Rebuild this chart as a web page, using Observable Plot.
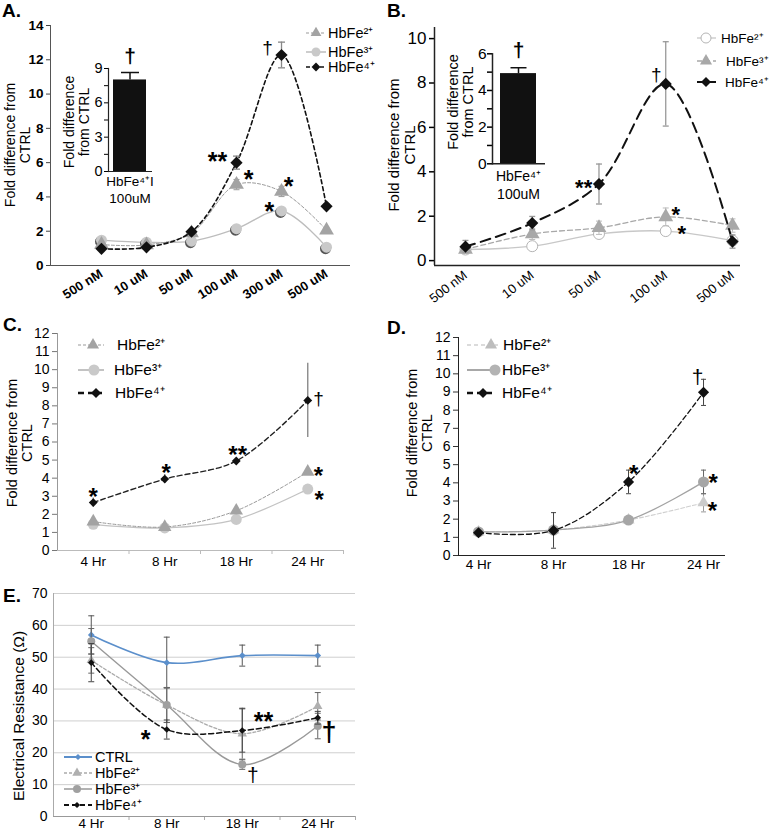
<!DOCTYPE html>
<html><head><meta charset="utf-8">
<script src="https://cdn.jsdelivr.net/npm/d3@7"></script>
<script src="https://cdn.jsdelivr.net/npm/@observablehq/plot@0.6"></script>
<style>
body{margin:0;background:#fff;font-family:"Liberation Sans",Arial,sans-serif;color:#000;}
#fig{position:relative;width:769px;height:830px;overflow:hidden;background:#fff;}
.plab{position:absolute;font-weight:bold;font-size:19px;}
</style></head><body><div id="fig"></div>
<script>
// ---------------- DATA ----------------
const seriesNames = ["HbFe²⁺", "HbFe³⁺", "HbFe⁴⁺"];
const ctrlName = "CTRL";

// Panel A (concentration)
const concA = ["500 nM", "10 uM", "50 uM", "100 uM", "300 uM", "500 uM"];
const aFe2 = [1.22, 1.2, 1.9, 4.72, 4.32, 2.06];
const aFe2Err = [0.08, 0.08, 0.1, 0.3, 0.3, 0.12];
const aFe3 = [1.48, 1.35, 1.42, 2.15, 3.18, 1.07];
const aFe3Err = [0.06, 0.06, 0.08, 0.1, 0.12, 0.06];
const aFe4 = [0.97, 1.06, 1.97, 6.0, 12.28, 3.45];
const aFe4Err = [0.08, 0.08, 0.12, 0.38, 0.75, 0.12];
const insetALabel = ["HbFe⁴⁺I\n100uM"];
const insetAValue = [8.0];
const insetAErr = [0.65];
const aNotes = [
  {x: 2.58, y: 6.42, t: "**"}, {x: 3.27, y: 5.37, t: "*"}, {x: 4.16, y: 4.96, t: "*"},
  {x: 3.73, y: 3.5, t: "*"}, {x: 3.69, y: 12.7, t: "†"}
];
const insetANotes = [{y: 10.1, t: "†"}];

// Panel B (concentration)
const concB = ["500 nM", "10 uM", "50 uM", "100 uM", "500 uM"];
const bFe2 = [0.5, 0.65, 1.2, 1.33, 0.9];
const bFe2Err = [0.05, 0.08, 0.1, 0.1, 0.15];
const bFe3 = [0.5, 1.2, 1.48, 1.97, 1.58];
const bFe3Err = [0.1, 0.25, 0.3, 0.4, 0.3];
const bFe4 = [0.63, 1.69, 3.45, 7.96, 0.86];
const bFe4Err = [0.28, 0.3, 0.9, 1.9, 0.3];
const insetBLabel = ["HbFe⁴⁺\n100uM"];
const insetBValue = [4.92];
const insetBErr = [0.32];
const bNotes = [
  {x: 1.77, y: 3.53, t: "**"}, {x: 2.86, y: 8.35, t: "†"},
  {x: 3.15, y: 2.3, t: "*"}, {x: 3.24, y: 1.45, t: "*"}
];
const insetBNotes = [{y: 6.2, t: "†"}];

// Panel C (time)
const hours = ["4 Hr", "8 Hr", "18 Hr", "24 Hr"];
const cFe2 = [1.6, 1.3, 2.2, 4.35];
const cFe2Err = [0.08, 0.06, 0.1, 0.1];
const cFe3 = [1.45, 1.25, 1.72, 3.4];
const cFe3Err = [0.06, 0.06, 0.08, 0.08];
const cFe4 = [2.65, 3.95, 4.95, 8.3];
const cFe4Err = [0.25, 0.25, 0.1, 2.05];
const cNotes = [
  {x: 0, y: 3.3, t: "*"}, {x: 1.02, y: 4.6, t: "*"}, {x: 2.02, y: 5.62, t: "**"},
  {x: 3.15, y: 8.38, t: "†"}, {x: 3.15, y: 4.45, t: "*"}, {x: 3.16, y: 3.1, t: "*"}
];

// Panel D (time)
const dFe2 = [1.3, 1.4, 1.95, 2.9];
const dFe2Err = [0, 0, 0, 0.5];
const dFe3 = [1.3, 1.4, 1.95, 4.05];
const dFe3Err = [0, 0, 0.05, 0.65];
const dFe4 = [1.25, 1.38, 4.05, 8.98];
const dFe4Err = [0.05, 0.98, 0.65, 0.72];
const dNotes = [
  {x: 2.07, y: 4.84, t: "*"}, {x: 2.92, y: 9.8, t: "†"},
  {x: 3.13, y: 4.3, t: "*"}, {x: 3.12, y: 2.75, t: "*"}
];

// Panel E (time, electrical resistance)
const eCtrl = [57, 48.3, 50.5, 50.5];
const eCtrlErr = [6, 8, 3.3, 3.3];
const eFe2 = [49, 35, 26, 34.6];
const eFe2Err = [4, 5.5, 8, 4.3];
const eFe3 = [55, 35, 16.3, 28.4];
const eFe3Err = [4, 5.5, 1.5, 4];
const eFe4 = [48.3, 27.3, 27, 31];
const eFe4Err = [6, 3, 6.8, 2];
const eNotes = [
  {x: 0.72, y: 26.1, t: "*"}, {x: 2.28, y: 31.8, t: "**"},
  {x: 2.14, y: 12.8, t: "†"}, {x: 3.15, y: 26.4, t: "†"}
];

// ---------------- HELPERS ----------------
const FONT = "Liberation Sans, Arial, sans-serif";
const fig = document.getElementById("fig");
const ser = (ys, es) => ys.map((y, i) => ({x: i, y, e: es ? es[i] : 0}));
const CAP = {draw(ctx, size) { const w = Math.sqrt(size / Math.PI); ctx.moveTo(-w, 0); ctx.lineTo(w, 0); }};
const DIAMOND = d3.symbolDiamond2 || d3.symbolDiamond;
const intFmt = d => String(d);

function place(node, left, top) {
  node.style.position = "absolute";
  node.style.left = left + "px";
  node.style.top = top + "px";
  fig.appendChild(node);
}

function seriesMarks(data, o) {
  const m = [];
  m.push(Plot.line(data, {x: "x", y: "y", curve: "catmull-rom", stroke: o.stroke, strokeWidth: o.sw ?? 1, strokeDasharray: o.dash}));
  if (o.err) {
    const ed = data.filter(d => d.e > 0);
    m.push(Plot.ruleX(ed, {x: "x", y1: d => d.y - d.e, y2: d => d.y + d.e, stroke: o.err, strokeWidth: o.errW ?? 1}));
    if (o.capR) m.push(Plot.dot(ed.flatMap(d => [{x: d.x, y: d.y - d.e}, {x: d.x, y: d.y + d.e}]),
      {x: "x", y: "y", symbol: CAP, r: o.capR, stroke: o.err, strokeWidth: o.errW ?? 1, fill: "none"}));
  }
  if (o.shadow) m.push(Plot.dot(data, {x: "x", y: "y", symbol: o.symbol, r: o.r, fill: o.shadow, dx: -1, dy: 1.5}));
  m.push(Plot.dot(data, {x: "x", y: "y", symbol: o.symbol, r: o.r, fill: o.fill, stroke: o.symStroke ?? "none", strokeWidth: o.symSw ?? 1}));
  return m;
}

function noteMarks(notes, starFs, daggerFs, daggerWeight) {
  return notes.map(n => {
    const star = n.t.includes("*");
    const fs = star ? starFs : daggerFs;
    return Plot.text([n], {x: "x", y: "y", text: "t", fontSize: fs, fontWeight: star ? "bold" : (daggerWeight || "normal"),
      lineAnchor: "middle", dy: star ? 0.26 * fs : 0, fill: "black", fontFamily: "Liberation Sans"});
  });
}

function vtitle(lines, cx, cy, fs, lh) {
  const div = document.createElement("div");
  div.innerHTML = lines.join("<br>");
  Object.assign(div.style, {position: "absolute", left: cx + "px", top: cy + "px",
    transform: "translate(-50%,-50%) rotate(-90deg)", fontSize: fs + "px", lineHeight: lh + "px",
    textAlign: "center", whiteSpace: "nowrap"});
  fig.appendChild(div);
}

function panelLabel(t, left, top) {
  const d = document.createElement("div");
  d.className = "plab"; d.textContent = t;
  d.style.left = left + "px"; d.style.top = top + "px";
  fig.appendChild(d);
}

function legend(items, fs) {
  const svg = d3.create("svg").attr("width", 769).attr("height", 830)
    .style("position", "absolute").style("left", "0px").style("top", "0px").style("pointer-events", "none");
  for (const it of items) {
    svg.append("line").attr("x1", it.x1).attr("x2", it.x2).attr("y1", it.y).attr("y2", it.y)
      .attr("stroke", it.stroke).attr("stroke-width", it.sw || 1).attr("stroke-dasharray", it.dash || null);
    svg.append("path").attr("transform", `translate(${it.mx},${it.y})`)
      .attr("d", d3.symbol(it.symbol, it.r * it.r * Math.PI)())
      .attr("fill", it.fill).attr("stroke", it.symStroke || "none");
    svg.append("text").attr("x", it.tx).attr("y", it.y).attr("dy", "0.35em")
      .attr("font-size", fs).attr("font-family", FONT).text(it.label);
  }
  fig.appendChild(svg.node());
}

const baseStyle = {fontFamily: FONT, fontSize: "13px", color: "#000", overflow: "visible", background: "transparent"};

// ---------------- PANEL A ----------------
{
  const xd = [-1.133, 5.533];
  const p = Plot.plot({
    width: 385, height: 300, marginLeft: 50, marginRight: 35, marginTop: 25, marginBottom: 35,
    x: {type: "linear", domain: xd}, y: {domain: [0, 14]},
    style: baseStyle,
    marks: [
      Plot.axisY({ticks: d3.range(0, 15, 2), tickFormat: intFmt, tickSize: 4, tickPadding: 3, fontWeight: "bold", fontSize: 13.5, label: null, stroke: "#444"}),
      Plot.axisX({ticks: concA.map((_, i) => i), tickFormat: i => concA[i], tickRotate: -32, tickSize: 0, tickPadding: 7, fontWeight: "bold", fontSize: 13, label: null}),
      Plot.ruleX([xd[0]], {stroke: "#555"}),
      Plot.ruleY([0], {stroke: "#555"}),
      ...seriesMarks(ser(aFe3, aFe3Err), {stroke: "#bdbdbd", sw: 1.3, symbol: "circle", r: 5.5, fill: "#c9c9c9", shadow: "#555"}),
      ...seriesMarks(ser(aFe2, aFe2Err), {stroke: "#999", sw: 1, dash: "3,2", symbol: "triangle", r: 5.5, fill: "#a3a3a3", err: "#999", capR: 3}),
      ...seriesMarks(ser(aFe4, aFe4Err), {stroke: "#111", sw: 1.6, dash: "4,3", symbol: DIAMOND, r: 5.5, fill: "#111", err: "#888", errW: 1.3, capR: 3.5}),
      ...noteMarks(aNotes, 25, 19)
    ]
  });
  place(p, 0, 0);

  const ins = Plot.plot({
    width: 110, height: 170, marginLeft: 50, marginRight: 16, marginTop: 28, marginBottom: 39,
    x: {type: "band", domain: insetALabel, paddingInner: 0.13, paddingOuter: 0.13},
    y: {domain: [0, 9]},
    style: baseStyle,
    marks: [
      Plot.axisY({ticks: [0, 3, 6, 9], tickFormat: intFmt, tickSize: 4, tickPadding: 2, fontSize: 14.5, label: null}),
      Plot.axisY({ticks: [1.5, 4.5, 7.5], tickSize: 4, tickFormat: () => "", label: null}),
      Plot.axisX({tickSize: 0, tickPadding: 3, fontSize: 13.5, lineHeight: 1.25, label: null}),
      Plot.barY(insetALabel.map((k, i) => ({k, v: insetAValue[i]})), {x: "k", y: "v", fill: "#111"}),
      Plot.ruleX(insetALabel.map((k, i) => ({k, v: insetAValue[i], e: insetAErr[i]})), {x: "k", y1: "v", y2: d => d.v + d.e, stroke: "#111", strokeWidth: 1.5}),
      Plot.dot(insetALabel.map((k, i) => ({k, y: insetAValue[i] + insetAErr[i]})), {x: "k", y: "y", symbol: CAP, r: 9, stroke: "#111", strokeWidth: 1.5}),
      Plot.text(insetANotes.map(n => ({...n, k: insetALabel[0]})), {x: "k", y: "y", text: "t", fontSize: 21, fontWeight: "bold", lineAnchor: "middle"}),
      Plot.ruleY([0], {stroke: "#222", strokeWidth: 1.2}),
      Plot.frame({anchor: "left", stroke: "#222", strokeWidth: 1.2})
    ]
  });
  place(ins, 58, 40);
}
vtitle(["Fold difference from", "CTRL"], 18, 145, 14, 15);
vtitle(["Fold difference", "from CTRL"], 77, 122, 14, 15);
panelLabel("A.", 2, 0);
legend([
  {y: 33, x1: 306, x2: 326, stroke: "#999", dash: "3,2", mx: 316, symbol: d3.symbolTriangle, r: 4, fill: "#a3a3a3", tx: 328, label: seriesNames[0]},
  {y: 52, x1: 306, x2: 326, stroke: "#bdbdbd", sw: 1.5, mx: 316, symbol: d3.symbolCircle, r: 4.5, fill: "#c9c9c9", tx: 328, label: seriesNames[1]},
  {y: 67, x1: 306, x2: 326, stroke: "#111", sw: 1.5, dash: "4,3", mx: 316, symbol: DIAMOND, r: 4, fill: "#111", tx: 328, label: seriesNames[2]}
], 14.5);

// ---------------- PANEL B ----------------
{
  const xd = [-0.464, 4.12];
  const p = Plot.plot({
    width: 384, height: 300, marginLeft: 49, marginRight: 29, marginTop: 27, marginBottom: 35,
    x: {type: "linear", domain: xd}, y: {domain: [-0.22, 10.5]},
    style: baseStyle,
    marks: [
      Plot.axisY({ticks: d3.range(0, 11, 2), tickFormat: intFmt, tickSize: 5, tickPadding: 3, fontSize: 17, label: null, strokeWidth: 1.5}),
      Plot.axisX({ticks: concB.map((_, i) => i), tickFormat: i => concB[i], tickRotate: -38, tickSize: 0, tickPadding: 8, fontSize: 13, label: null}),
      Plot.ruleX([xd[0]], {stroke: "#222", strokeWidth: 1.5}),
      Plot.ruleY([-0.22], {stroke: "#222", strokeWidth: 1.5}),
      ...seriesMarks(ser(bFe2, bFe2Err), {stroke: "#c8c8c8", sw: 1.3, symbol: "circle", r: 5.5, fill: "#fff", symStroke: "#b5b5b5", err: "#ccc", capR: 2.5}),
      ...seriesMarks(ser(bFe3, bFe3Err), {stroke: "#a8a8a8", sw: 1.3, dash: "5,3", symbol: "triangle", r: 5.5, fill: "#a8a8a8", err: "#bbb", capR: 3}),
      ...seriesMarks(ser(bFe4, bFe4Err), {stroke: "#111", sw: 2, dash: "10,6", symbol: DIAMOND, r: 5.5, fill: "#111", err: "#999", errW: 1.3, capR: 3}),
      ...noteMarks(bNotes, 22, 19)
    ]
  });
  place(p, 385, 0);

  const ins = Plot.plot({
    width: 110, height: 170, marginLeft: 52, marginRight: 5, marginTop: 23.3, marginBottom: 36.7,
    x: {type: "band", domain: insetBLabel, paddingInner: 0.18, paddingOuter: 0.18},
    y: {domain: [0, 6]},
    style: baseStyle,
    marks: [
      Plot.axisY({ticks: [0, 2, 4, 6], tickFormat: intFmt, tickSize: 5, tickPadding: 1, fontSize: 15.5, label: null, strokeWidth: 1.5}),
      Plot.axisY({ticks: [1, 3, 5], tickSize: 5, tickFormat: () => "", label: null, strokeWidth: 1.5}),
      Plot.axisX({tickSize: 0, tickPadding: 5, fontSize: 14, lineHeight: 1.25, label: null}),
      Plot.barY(insetBLabel.map((k, i) => ({k, v: insetBValue[i]})), {x: "k", y: "v", fill: "#111"}),
      Plot.ruleX(insetBLabel.map((k, i) => ({k, v: insetBValue[i], e: insetBErr[i]})), {x: "k", y1: "v", y2: d => d.v + d.e, stroke: "#111", strokeWidth: 1.5}),
      Plot.dot(insetBLabel.map((k, i) => ({k, y: insetBValue[i] + insetBErr[i]})), {x: "k", y: "y", symbol: CAP, r: 8, stroke: "#111", strokeWidth: 1.5}),
      Plot.text(insetBNotes.map(n => ({...n, k: insetBLabel[0]})), {x: "k", y: "y", text: "t", fontSize: 21, fontWeight: "bold", lineAnchor: "middle"}),
      Plot.ruleY([0], {stroke: "#222", strokeWidth: 1.5}),
      Plot.frame({anchor: "left", stroke: "#222", strokeWidth: 1.5})
    ]
  });
  place(ins, 440, 30);
}
vtitle(["Fold difference from", "CTRL"], 402, 145, 15, 16);
vtitle(["Fold difference", "from CTRL"], 461, 102, 14.5, 15);
panelLabel("B.", 387, 0);
legend([
  {y: 38, x1: 697, x2: 716, stroke: "#c8c8c8", sw: 1.3, mx: 706, symbol: d3.symbolCircle, r: 5, fill: "#fff", symStroke: "#b5b5b5", tx: 721, label: seriesNames[0]},
  {y: 61, x1: 697, x2: 716, stroke: "#a8a8a8", sw: 1.3, dash: "5,3", mx: 706, symbol: d3.symbolTriangle, r: 4.5, fill: "#a8a8a8", tx: 726, label: seriesNames[1]},
  {y: 82, x1: 697, x2: 716, stroke: "#111", sw: 2, dash: "8,5", mx: 706, symbol: DIAMOND, r: 4.5, fill: "#111", tx: 725, label: seriesNames[2]}
], 13.5);

// ---------------- PANEL C ----------------
{
  const xd = [-0.5, 3.5];
  const p = Plot.plot({
    width: 385, height: 280, marginLeft: 57, marginRight: 42, marginTop: 33, marginBottom: 30,
    x: {type: "linear", domain: xd}, y: {domain: [0, 12]},
    style: baseStyle,
    marks: [
      Plot.axisY({ticks: d3.range(0, 13), tickFormat: intFmt, tickSize: 5, tickPadding: 3, fontSize: 14, label: null, stroke: "#777"}),
      Plot.axisX({ticks: hours.map((_, i) => i), tickFormat: i => hours[i], tickSize: 0, tickPadding: 6, fontSize: 13.5, label: null}),
      Plot.axisX({ticks: [0.5, 1.5, 2.5, 3.5], tickFormat: () => "", tickSize: 4, label: null, stroke: "#bbb"}),
      Plot.ruleX([xd[0]], {stroke: "#999"}),
      Plot.ruleY([0], {stroke: "#bbb"}),
      ...seriesMarks(ser(cFe3, cFe3Err), {stroke: "#c3c3c3", sw: 1.3, symbol: "circle", r: 5.5, fill: "#c9c9c9"}),
      ...seriesMarks(ser(cFe2, cFe2Err), {stroke: "#999", sw: 1, dash: "3,2", symbol: "triangle", r: 5, fill: "#a3a3a3"}),
      ...seriesMarks(ser(cFe4, cFe4Err), {stroke: "#222", sw: 1.4, dash: "5,3", symbol: DIAMOND, r: 4, fill: "#111", err: "#8a8a8a", errW: 1.4, capR: 0}),
      ...noteMarks(cNotes, 24, 19)
    ]
  });
  place(p, 0, 300);
}
vtitle(["Fold difference from", "CTRL"], 20, 443, 14.5, 15);
panelLabel("C.", 3, 314);
legend([
  {y: 345, x1: 78, x2: 104, stroke: "#999", dash: "3,2", mx: 93, symbol: d3.symbolTriangle, r: 4.5, fill: "#a3a3a3", tx: 117, label: seriesNames[0]},
  {y: 370, x1: 78, x2: 104, stroke: "#c3c3c3", sw: 2, mx: 94, symbol: d3.symbolCircle, r: 5.5, fill: "#c9c9c9", tx: 114, label: seriesNames[1]},
  {y: 393, x1: 78, x2: 102, stroke: "#111", sw: 2.5, dash: "6,4", mx: 96, symbol: DIAMOND, r: 4.5, fill: "#111", tx: 115, label: seriesNames[2]}
], 15.5);

// ---------------- PANEL D ----------------
{
  const xd = [-0.267, 3.293];
  const p = Plot.plot({
    width: 384, height: 280, marginLeft: 73, marginRight: 44, marginTop: 37, marginBottom: 25,
    x: {type: "linear", domain: xd}, y: {domain: [0, 12]},
    style: baseStyle,
    marks: [
      Plot.axisY({ticks: d3.range(0, 13), tickFormat: intFmt, tickSize: 5, tickPadding: 3, fontSize: 14, label: null, stroke: "#333"}),
      Plot.axisX({ticks: hours.map((_, i) => i), tickFormat: i => hours[i], tickSize: 0, tickPadding: 4, fontSize: 13.5, label: null}),
      Plot.ruleX([xd[0]], {stroke: "#222"}),
      Plot.ruleY([0], {stroke: "#222"}),
      ...seriesMarks(ser(dFe2, dFe2Err), {stroke: "#cfcfcf", sw: 1.1, dash: "4,2", symbol: "triangle", r: 4.5, fill: "#cbcbcb", err: "#999", capR: 2.5}),
      ...seriesMarks(ser(dFe3, dFe3Err), {stroke: "#a3a3a3", sw: 1.3, symbol: "circle", r: 5.5, fill: "#a6a6a6", err: "#666", capR: 2.5}),
      ...seriesMarks(ser(dFe4, dFe4Err), {stroke: "#111", sw: 1.3, dash: "5,3", symbol: DIAMOND, r: 5, fill: "#111", err: "#444", capR: 2.5}),
      ...noteMarks(dNotes, 24, 21)
    ]
  });
  place(p, 385, 300);
}
vtitle(["Fold difference from", "CTRL"], 420, 433, 14.5, 15);
panelLabel("D.", 387, 317);
legend([
  {y: 345, x1: 467, x2: 498, stroke: "#cfcfcf", sw: 1.5, dash: "4,3", mx: 491, symbol: d3.symbolTriangle, r: 4.5, fill: "#bdbdbd", tx: 503, label: seriesNames[0]},
  {y: 370, x1: 467, x2: 497, stroke: "#a8a8a8", sw: 2, mx: 495, symbol: d3.symbolCircle, r: 5.5, fill: "#b3b3b3", tx: 502, label: seriesNames[1]},
  {y: 393, x1: 467, x2: 492, stroke: "#111", sw: 2.5, dash: "6,4", mx: 483, symbol: DIAMOND, r: 4.5, fill: "#111", tx: 502, label: seriesNames[2]}
], 15.5);

// ---------------- PANEL E ----------------
{
  const xd = [-0.5, 3.5];
  const p = Plot.plot({
    width: 400, height: 245, marginLeft: 53, marginRight: 45, marginTop: 8, marginBottom: 14,
    x: {type: "linear", domain: xd}, y: {domain: [0, 70]},
    style: baseStyle,
    marks: [
      Plot.gridY({ticks: d3.range(10, 71, 10), stroke: "#cfcfcf", strokeOpacity: 1}),
      Plot.axisY({ticks: d3.range(0, 71, 10), tickFormat: intFmt, tickSize: 0, tickPadding: 6, fontSize: 14, label: null}),
      Plot.axisX({ticks: hours.map((_, i) => i), tickFormat: i => hours[i], tickSize: 0, tickPadding: 2, fontSize: 13.5, label: null}),
      Plot.axisX({ticks: [0.5, 1.5, 2.5, 3.5], tickFormat: () => "", tickSize: 4, label: null, stroke: "#aaa"}),
      Plot.ruleX([xd[0]], {stroke: "#aaa"}),
      Plot.ruleY([0], {stroke: "#999"}),
      ...seriesMarks(ser(eCtrl, eCtrlErr), {stroke: "#5b8fcb", sw: 1.6, symbol: DIAMOND, r: 3, fill: "#5b8fcb", err: "#555", capR: 3}),
      ...seriesMarks(ser(eFe2, eFe2Err), {stroke: "#aaa", sw: 1.3, dash: "3,2", symbol: "triangle", r: 3.5, fill: "#b0b0b0", err: "#666", capR: 3}),
      ...seriesMarks(ser(eFe3, eFe3Err), {stroke: "#999", sw: 1.4, symbol: "circle", r: 4, fill: "#a0a0a0", err: "#666", capR: 3}),
      ...seriesMarks(ser(eFe4, eFe4Err), {stroke: "#111", sw: 1.5, dash: "5,3", symbol: DIAMOND, r: 3, fill: "#111", err: "#444", capR: 3}),
      ...noteMarks(eNotes.slice(0, 3), 25, 21),
      ...noteMarks(eNotes.slice(3), 25, 27, "bold")
    ]
  });
  place(p, 0, 585);
}
vtitle(["Electrical Resistance (Ω)"], 19, 716, 15.5, 16);
panelLabel("E.", 3, 585);
legend([
  {y: 757, x1: 64, x2: 92, stroke: "#5b8fcb", sw: 2, mx: 78, symbol: DIAMOND, r: 2.8, fill: "#5b8fcb", tx: 95, label: ctrlName},
  {y: 773, x1: 64, x2: 92, stroke: "#aaa", sw: 1.5, dash: "3,2", mx: 77, symbol: d3.symbolTriangle, r: 3.5, fill: "#b0b0b0", tx: 95, label: seriesNames[0]},
  {y: 789, x1: 64, x2: 92, stroke: "#999", sw: 1.5, mx: 77, symbol: d3.symbolCircle, r: 4, fill: "#a0a0a0", tx: 95, label: seriesNames[1]},
  {y: 805, x1: 64, x2: 92, stroke: "#111", sw: 2, dash: "5,3", mx: 77, symbol: DIAMOND, r: 2.8, fill: "#111", tx: 95, label: seriesNames[2]}
], 14.5);
</script>
</body></html>
